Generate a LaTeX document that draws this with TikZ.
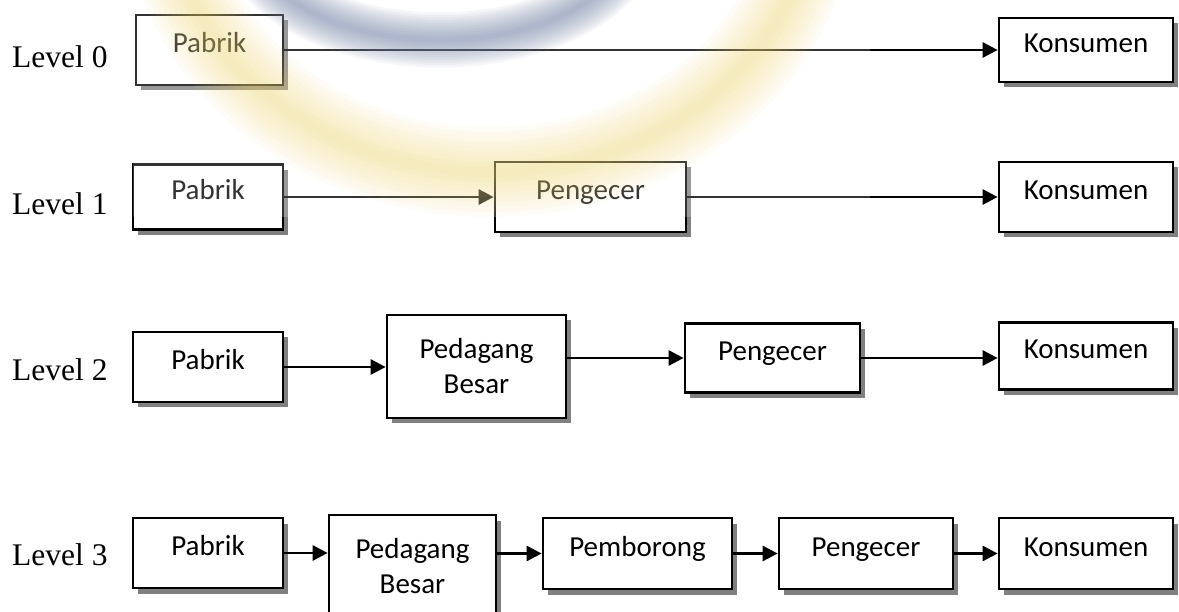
\documentclass[tikz,border=0pt]{standalone}
\usepackage{fontspec}
\setmainfont{Liberation Serif}
\newfontfamily\boxfont{Carlito}
\usetikzlibrary{arrows.meta,shadows}
\definecolor{wmyellow}{RGB}{245,212,95}
\definecolor{wmblue}{RGB}{115,130,168}
\begin{document}
\begin{tikzpicture}[x=1pt,y=-1pt,
  box/.style={draw=black, line width=2.7pt, fill=white, rectangle, inner sep=0pt,
    font=\boxfont\fontsize{29}{35}\selectfont, align=center,
    drop shadow={shadow xshift=5pt, shadow yshift=-5.5pt, fill=black!50, opacity=1}},
  one/.style={text height=0.72em, text depth=0.2em},
  lvl/.style={anchor=base west, inner sep=0pt, font=\fontsize{31.5}{36}\selectfont},
  arr/.style={line width=2.7pt, -{Triangle[length=15pt,width=15pt]}}]
\useasboundingbox (0,0) rectangle (1179,612);
\fill[white] (0,0) rectangle (1179,612);

% Level labels
\node[lvl] (l0) at (12,68) {Level 0};
\node[lvl] (l1) at (12,215) {Level 1};
\node[lvl] (l2) at (12,381) {Level 2};
\node[lvl] (l3) at (12,565) {Level 3};

% Level 0
\node[box, one, minimum width=147pt, minimum height=70pt] (p0) at (209.5,50) {Pabrik};
\node[box, one, minimum width=174pt, minimum height=64pt] (k0) at (1086,50) {Konsumen};
\draw[arr] (p0.east) -- (k0.west);

% Level 1
\node[box, one, minimum width=150pt, minimum height=65pt] (p1) at (208,197) {Pabrik};
\node[box, one, minimum width=191pt, minimum height=70pt] (e1) at (590.5,197) {Pengecer};
\node[box, one, minimum width=174pt, minimum height=70pt] (k1) at (1086,197) {Konsumen};
\draw[arr] (p1.east) -- (e1.west);
\draw[arr] (e1.east) -- (k1.west);

% Level 2
\node[box, one, minimum width=150pt, minimum height=70pt] (p2) at (208,367) {Pabrik};
\node[box, minimum width=179pt, minimum height=103pt] (b2) at (476.5,366.5) {Pedagang\\Besar};
\node[box, one, minimum width=175pt, minimum height=69pt] (e2) at (772.5,358) {Pengecer};
\node[box, one, minimum width=174pt, minimum height=67pt] (k2) at (1086,356) {Konsumen};
\draw[arr] (p2.east) -- (p2.east -| b2.west);
\draw[arr] (b2.east |- e2.west) -- (e2.west);
\draw[arr] (e2.east) -- (e2.east -| k2.west);

% Level 3
\node[box, one, minimum width=150pt, minimum height=70pt] (p3) at (208,553) {Pabrik};
\node[box, minimum width=167pt, minimum height=103pt] (b3) at (412.5,566.5) {Pedagang\\Besar};
\node[box, one, minimum width=189pt, minimum height=71pt] (m3) at (637.5,553.5) {Pemborong};
\node[box, one, minimum width=174pt, minimum height=71pt] (e3) at (866,553.5) {Pengecer};
\node[box, one, minimum width=174pt, minimum height=71pt] (k3) at (1086,553.5) {Konsumen};
\draw[arr] (p3.east) -- (p3.east -| b3.west);
\draw[arr] (b3.east |- m3.west) -- (m3.west);
\draw[arr] (m3.east) -- (e3.west);
\draw[arr] (e3.east) -- (k3.west);

% faded watermark over the upper part
\begin{scope}
  \clip (133,0) rectangle (870,217);
  \fill[white, opacity=0.2] (133,0) rectangle (870,217);
  \foreach \w in {90,80,...,10}
    \draw[wmyellow, line width=\w pt, opacity=0.05] (490,-100) ellipse [x radius=320, y radius=272];
  \foreach \w in {55,50,...,5}
    \draw[wmblue, line width=\w pt, opacity=0.07] (440,-72) ellipse [x radius=195, y radius=112];
\end{scope}
\end{tikzpicture}
\end{document}
